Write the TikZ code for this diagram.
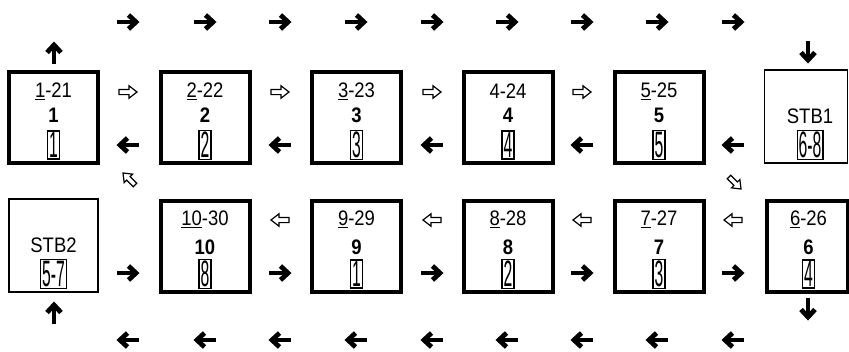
\documentclass[tikz,border=0pt]{standalone}
\usepackage{fontspec}
\setmainfont{Liberation Sans}[FakeStretch=0.88]
\newcommand\lab{\fontsize{21}{24}\selectfont}
\newcommand\uln[1]{\setbox0\hbox{#1}\rlap{\rule[-3pt]{\wd0}{1.6pt}}\box0}
\newcommand\tall[1]{\scalebox{0.85}[1.75]{#1}}
\begin{document}
\begin{tikzpicture}[x=1pt,y=-1pt,
  cellbox/.style={draw, line width=4pt, minimum width=89pt, minimum height=91pt, inner sep=0pt},
  stbbox/.style={draw, line width=1.8pt, minimum width=89pt, minimum height=93pt, inner sep=0pt},
  lbl/.style={font=\lab, inner sep=0pt},
  tag/.style={draw, line width=1.3pt, inner sep=1.5pt, font=\lab},
  heavy/.pic={
    \draw[line width=4.8pt] (-11,0) -- (7,0);
    \draw[line width=4.8pt, line join=miter, miter limit=10] (0.5,-7) -- (8,0) -- (0.5,7);
  },
  hollow/.pic={
    \draw[line width=1.2pt, line join=miter, fill=white]
      (-9,-2.6) -- (1,-2.6) -- (1,-6.2) -- (9,0) -- (1,6.2) -- (1,2.6) -- (-9,2.6) -- cycle;
  }]
\useasboundingbox (0,0) rectangle (849,351);

% upper row of cells
\node[cellbox] (c1) at (53.5,117.5) {};
\node[cellbox] (c2) at (205,117.5) {};
\node[cellbox] (c3) at (356.5,117.5) {};
\node[cellbox] (c4) at (508,117.5) {};
\node[cellbox] (c5) at (659,117.5) {};
\node[stbbox, minimum width=83pt] (s1) at (806,116.5) {};

% lower row of cells
\node[stbbox] (s2) at (53.5,245.5) {};
\node[cellbox] (c10) at (205,246.5) {};
\node[cellbox] (c9) at (356.5,246.5) {};
\node[cellbox] (c8) at (508,246.5) {};
\node[cellbox] (c7) at (659,246.5) {};
\node[cellbox, minimum width=81pt] (c6) at (807,246.5) {};

% cell texts: range, bold index, framed slot
\foreach \c/\r/\n/\t/\xo in {c1/\uln{1}-21/1/1/0, c2/\uln{2}-22/2/2/0, c3/\uln{3}-23/3/3/0,
    c4/4-24/4/4/0, c5/\uln{5}-25/5/5/0}{
  \node[lbl] (\c a) at ([yshift=26pt]\c.center) {\r};
  \node[lbl] (\c b) at ([yshift=2.5pt]\c.center) {\textbf{\n}};
  \node[tag] (\c t) at ([yshift=-27.5pt]\c.center) {\tall{\t}};
}
\foreach \c/\r/\n/\t/\xo in {c10/\uln{10}-30/10/8/0, c9/\uln{9}-29/9/1/0, c8/\uln{8}-28/8/2/0,
    c7/\uln{7}-27/7/3/0, c6/\uln{6}-26/6/4/1.5}{
  \node[lbl] (\c a) at ([xshift=\xo pt, yshift=27pt]\c.center) {\r};
  \node[lbl] (\c b) at ([xshift=\xo pt, yshift=-0.5pt]\c.center) {\textbf{\n}};
  \node[tag] (\c t) at ([xshift=\xo pt, yshift=-27.5pt]\c.center) {\tall{\t}};
}
\node[lbl] (s1a) at ([xshift=4pt, yshift=0pt]s1.center) {STB1};
\node[tag] (s1t) at ([xshift=4pt, yshift=-28.5pt]s1.center) {\tall{6-8}};
\node[lbl] (s2a) at ([yshift=0pt]s2.center) {STB2};
\node[tag] (s2t) at ([yshift=-28.5pt]s2.center) {\tall{5-7}};

% outer lanes
\foreach \x in {128,205,280,356,432,507,582,657,733}{
  \pic at (\x,22) {heavy};
  \pic[rotate=180] at (\x,340) {heavy};
}

% arrows between the upper cells
\foreach \x in {128,280,432,582}{
  \pic at (\x,92) {hollow};
}
\foreach \x in {128,280,432,582,733}{
  \pic[rotate=180] at (\x,145) {heavy};
}

% arrows between the lower cells
\foreach \x in {280,432,582,733}{
  \pic[rotate=180] at (\x,220) {hollow};
}
\foreach \x in {128,280,432,582,733}{
  \pic at (\x,273) {heavy};
}

% vertical arrows at the ends
\pic[rotate=90] at (54,53) {heavy};
\pic[rotate=-90] at (808,52) {heavy};
\pic[rotate=90] at (54,313) {heavy};
\pic[rotate=-90] at (808,309) {heavy};

% diagonal hollow arrows
\pic[rotate=135, scale=0.95] at (129,179) {hollow};
\pic[rotate=-45, scale=0.95] at (735,183) {hollow};
\end{tikzpicture}
\end{document}
